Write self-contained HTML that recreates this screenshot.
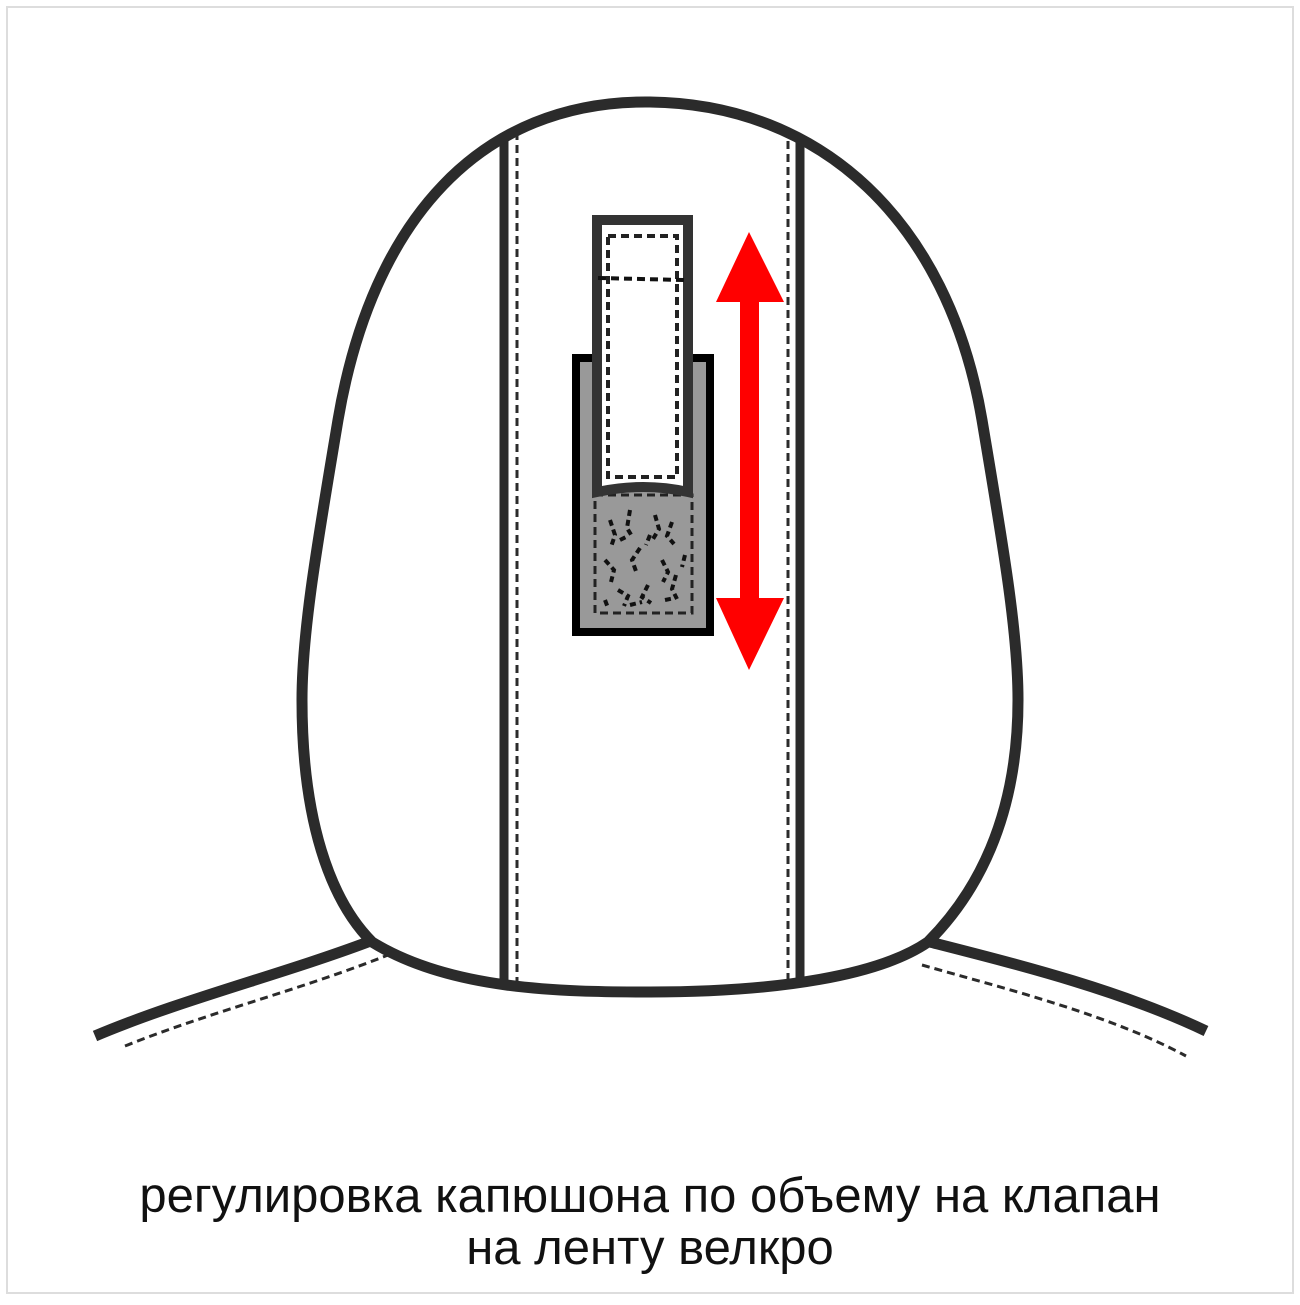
<!DOCTYPE html>
<html><head><style>html,body{margin:0;padding:0;background:#fff}</style></head>
<body>
<svg width="1300" height="1300" viewBox="0 0 1300 1300" xmlns="http://www.w3.org/2000/svg">
<rect x="7" y="7" width="1286" height="1286" fill="#fff" stroke="#ddd" stroke-width="2"/>
<path d="M95 1036 C180 1000 280 975 368 942" fill="none" stroke="#2b2b2b" stroke-width="11"/>
<path d="M125 1046 C210 1012 300 990 388 955" fill="none" stroke="#2b2b2b" stroke-width="3" stroke-dasharray="8,5"/>
<path d="M930 942 C1020 965 1120 990 1206 1031" fill="none" stroke="#2b2b2b" stroke-width="11"/>
<path d="M922 965 C1010 990 1110 1015 1186 1056" fill="none" stroke="#2b2b2b" stroke-width="3" stroke-dasharray="8,5"/>
<line x1="504" y1="140" x2="504" y2="982" stroke="#2b2b2b" stroke-width="9"/>
<line x1="800" y1="135" x2="800" y2="982" stroke="#2b2b2b" stroke-width="9"/>
<line x1="517" y1="132" x2="517" y2="982" stroke="#2b2b2b" stroke-width="3" stroke-dasharray="8,5"/>
<line x1="788" y1="128" x2="788" y2="982" stroke="#2b2b2b" stroke-width="3" stroke-dasharray="8,5"/>
<path d="M650 102 C480 100 372 220 338 420 C318 540 302 630 302 700 C302 820 330 900 372 942 C450 990 560 992 650 992 C780 992 880 975 928 942 C975 895 1018 820 1018 700 C1018 630 1002 540 982 420 C948 220 820 104 650 102 Z" fill="none" stroke="#2b2b2b" stroke-width="11"/>
<rect x="576" y="358" width="134" height="274" fill="#999" stroke="#000" stroke-width="8"/>
<rect x="595" y="495" width="97" height="118" fill="none" stroke="#222" stroke-width="3" stroke-dasharray="8,5"/>
<g stroke="#111" stroke-width="4" fill="none" stroke-dasharray="6,4">
<path d="M610 520 l5 15 l-4 12"/><path d="M630 510 l-3 18 l6 10"/><path d="M655 515 l4 14 l-6 10"/>
<path d="M672 522 l-5 14 l7 8"/><path d="M605 560 l9 10 l-3 12"/><path d="M640 548 l-8 12 l5 14"/>
<path d="M662 560 l6 12 l-5 10"/><path d="M618 590 l10 6 l-4 10"/><path d="M648 585 l-6 12 l9 6"/>
<path d="M676 575 l-4 14 l5 10"/><path d="M605 600 l3 8"/><path d="M630 605 l12 -3"/>
<path d="M620 540 l8 -4"/><path d="M650 535 l-4 10"/><path d="M685 555 l-3 12"/><path d="M665 600 l10 -2"/>
</g>
<path d="M597 220 H688 V492 Q644 482 597 492 Z" fill="#fff" stroke="#333" stroke-width="10"/>
<rect x="608" y="236" width="69" height="241" fill="none" stroke="#222" stroke-width="4" stroke-dasharray="8,5"/>
<line x1="598" y1="278" x2="684" y2="280" stroke="#111" stroke-width="4" stroke-dasharray="8,5"/>
<path d="M749 232 L784 302 L759 302 L759 598 L784 598 L749 670 L716 598 L740 598 L740 302 L716 302 Z" fill="#f00"/>
<text x="650" y="1212" text-anchor="middle" font-family="Liberation Sans, sans-serif" font-size="49" fill="#111">регулировка капюшона по объему на клапан</text>
<text x="650" y="1264" text-anchor="middle" font-family="Liberation Sans, sans-serif" font-size="49" fill="#111">на ленту велкро</text>
</svg>
</body></html>
